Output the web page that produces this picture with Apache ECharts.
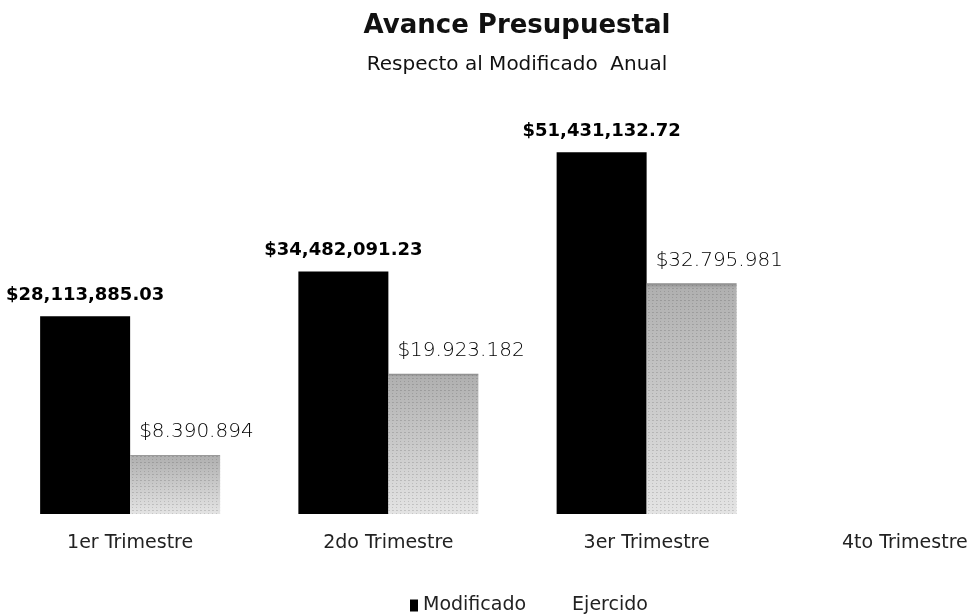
<!DOCTYPE html>
<html>
<head>
<meta charset="utf-8">
<script src="https://cdn.jsdelivr.net/npm/echarts@6/dist/echarts.min.js"></script>
<style>
html, body { margin: 0; padding: 0; background: #fff; width: 972px; height: 614px; overflow: hidden; }
#chart { width: 1034px; height: 614px; }
</style>
</head>
<body>
<div id="chart"></div>
<script>
var categories = ['1er Trimestre', '2do Trimestre', '3er Trimestre', '4to Trimestre'];
var modificado = [28113885.03, 34482091.23, 51431132.72, null];
var ejercido = [8390894, 19923182, 32795981, null];

function fmtBold(v) {
    var p = v.toFixed(2).split('.');
    return '$' + p[0].replace(/\B(?=(\d{3})+(?!\d))/g, ',') + '.' + p[1];
}
function fmtDot(v) {
    return '$' + Math.round(v).toString().replace(/\B(?=(\d{3})+(?!\d))/g, '.');
}

// the plot area runs past the right edge of the window (4th category half cut off)
var chart = echarts.init(document.getElementById('chart'));
chart.setOption({
    animation: false,
    title: {
        text: 'Avance Presupuestal',
        subtext: 'Respecto al Modificado  Anual',
        left: 'center',
        top: 8,
        itemGap: 16,
        textStyle: { fontFamily: 'DejaVu Sans', fontSize: 26, fontWeight: 'bold', color: '#111' },
        subtextStyle: { fontFamily: 'DejaVu Sans', fontSize: 20, color: '#111' }
    },
    legend: {
        top: 591,
        left: 405,
        icon: 'rect',
        itemWidth: 8,
        itemHeight: 12,
        itemGap: 33,
        textStyle: { fontFamily: 'DejaVu Sans', fontSize: 19, color: '#222' },
        data: [
            { name: 'Modificado', itemStyle: { color: '#000' } },
            { name: 'Ejercido', itemStyle: { color: '#fff', decal: 'none' } }
        ]
    },
    grid: { left: 1, right: 0, top: 92, bottom: 100 },
    xAxis: {
        type: 'category',
        data: categories,
        axisLine: { show: false },
        axisTick: { show: false },
        axisLabel: { margin: 20, fontFamily: 'DejaVu Sans', fontSize: 19, color: '#222' }
    },
    yAxis: {
        type: 'value',
        min: 0,
        max: 60000000,
        show: false,
        splitLine: { show: false }
    },
    series: [
        {
            name: 'Modificado',
            type: 'bar',
            data: modificado,
            barWidth: 90,
            barGap: '0%',
            itemStyle: { color: '#000' },
            label: {
                show: true,
                position: 'top',
                distance: 12,
                fontFamily: 'DejaVu Sans',
                fontWeight: 'bold',
                fontSize: 18,
                color: '#000',
                formatter: function (p) { return fmtBold(p.value); }
            }
        },
        {
            name: 'Ejercido',
            type: 'bar',
            data: ejercido,
            barWidth: 90,
            itemStyle: {
                color: {
                    type: 'linear', x: 0, y: 0, x2: 0, y2: 1,
                    colorStops: [
                        { offset: 0, color: '#8a8a8a' },
                        { offset: 0.02, color: '#b0b0b0' },
                        { offset: 1, color: '#e4e4e4' }
                    ]
                },
                decal: {
                    symbol: 'rect',
                    symbolSize: 0.6,
                    color: 'rgba(0,0,0,0.45)',
                    dashArrayX: [[1, 3], [2, 2]],
                    dashArrayY: [1, 2],
                    rotation: 0
                }
            },
            label: {
                show: true,
                position: 'top',
                align: 'left',
                distance: 13,
                offset: [-36, 0],
                fontFamily: 'DejaVu Sans',
                fontWeight: 300,
                fontSize: 20,
                color: '#000',
                formatter: function (p) { return fmtDot(p.value); }
            }
        }
    ]
});
</script>
</body>
</html>
